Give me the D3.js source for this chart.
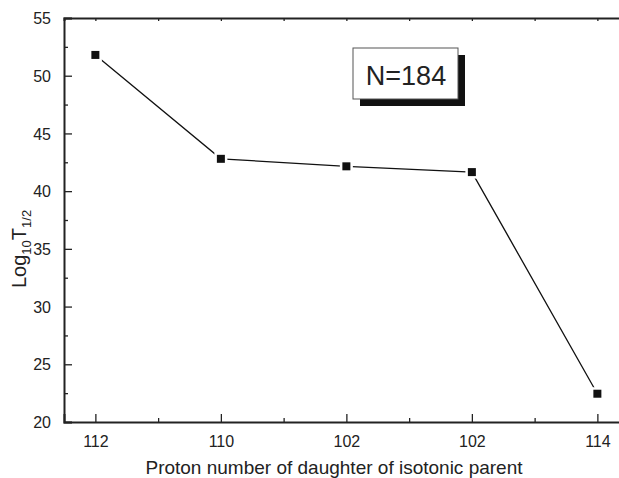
<!DOCTYPE html>
<html>
<head>
<meta charset="utf-8">
<script src="https://cdn.jsdelivr.net/npm/d3@7"></script>
<style>
  body { margin: 0; background: #fff; }
  text { font-family: Arial, "Liberation Sans", sans-serif; fill: #222; }
</style>
</head>
<body>
<svg id="chart" width="619" height="478"></svg>
<script>
// Data
const categories = ["112", "110", "102", "102", "114"];
const logHalfLife = [51.8, 42.8, 42.15, 41.65, 22.45];
const yTicks = [20, 25, 30, 35, 40, 45, 50, 55];
const annotation = "N=184";

const svg = d3.select("#chart");

// Plot frame (right side runs off the picture, like the original)
const plotLeft = 64, plotTop = 18, plotBottom = 422;
const step = 125.5;

// X scale on category index (labels repeat, so use positions)
const x = d3.scaleLinear()
    .domain([-0.25, categories.length - 0.75])
    .range([plotLeft, plotLeft + step * (categories.length - 0.5)]);

// Y scale
const y = d3.scaleLinear()
    .domain([20, 55])
    .range([plotBottom, plotTop]);

const idx = d3.range(categories.length);
const minorX = idx.slice(0, -1).map(i => i + 0.5);
const minorY = yTicks.slice(0, -1).map(v => v + 2.5);

// Bottom axis, ticks pointing inward
const xAxis = svg.append("g")
    .attr("transform", "translate(0," + plotBottom + ")")
    .call(d3.axisBottom(x).tickValues(idx).tickSize(-8).tickPadding(14)
        .tickFormat(i => categories[i]));
xAxis.selectAll(".tick text").style("font-size", "16px");

svg.append("g")
    .attr("transform", "translate(0," + plotBottom + ")")
    .call(d3.axisBottom(x).tickValues(minorX).tickSize(-4).tickFormat(""))
    .call(g => g.select(".domain").remove());

// Top axis
svg.append("g")
    .attr("transform", "translate(0," + plotTop + ")")
    .call(d3.axisTop(x).tickValues(idx.concat(minorX)).tickSize(-3).tickFormat(""));

// Left axis
const yAxis = svg.append("g")
    .attr("transform", "translate(" + plotLeft + ",0)")
    .call(d3.axisLeft(y).tickValues(yTicks).tickSize(-8).tickPadding(13));
yAxis.selectAll(".tick text").style("font-size", "16px").attr("dy", "0.35em");

svg.append("g")
    .attr("transform", "translate(" + plotLeft + ",0)")
    .call(d3.axisLeft(y).tickValues(minorY).tickSize(-4).tickFormat(""))
    .call(g => g.select(".domain").remove());

svg.selectAll(".domain").attr("stroke", "#222").attr("stroke-width", 2);
svg.selectAll(".tick line").attr("stroke", "#222").attr("stroke-width", 1.3);

// Line
const line = d3.line()
    .x((d, i) => x(i))
    .y(d => y(d));

svg.append("path")
    .datum(logHalfLife)
    .attr("fill", "none")
    .attr("stroke", "#111")
    .attr("stroke-width", 1.3)
    .attr("d", line);

// Markers with a small white gap round them
svg.selectAll(".gap")
    .data(logHalfLife)
    .enter().append("rect")
    .attr("x", (d, i) => x(i) - 6.5)
    .attr("y", d => y(d) - 6.5)
    .attr("width", 13)
    .attr("height", 13)
    .attr("fill", "#fff");

svg.selectAll(".marker")
    .data(logHalfLife)
    .enter().append("rect")
    .attr("x", (d, i) => x(i) - 4)
    .attr("y", d => y(d) - 4)
    .attr("width", 8)
    .attr("height", 8)
    .attr("fill", "#111");

// Annotation box with drop shadow
svg.append("rect")
    .attr("x", 360).attr("y", 55)
    .attr("width", 105).attr("height", 51)
    .attr("fill", "#111");
svg.append("rect")
    .attr("x", 353).attr("y", 48)
    .attr("width", 105).attr("height", 51)
    .attr("fill", "#fff")
    .attr("stroke", "#555")
    .attr("stroke-width", 1);
svg.append("text")
    .attr("x", 406).attr("y", 85)
    .attr("text-anchor", "middle")
    .style("font-size", "27px")
    .text(annotation);

// X axis title
svg.append("text")
    .attr("x", 334).attr("y", 474)
    .attr("text-anchor", "middle")
    .style("font-size", "19px")
    .text("Proton number of daughter of isotonic parent");

// Y axis title
const yt = svg.append("text")
    .attr("transform", "translate(26,288) rotate(-90)")
    .style("font-size", "20px");
yt.append("tspan").text("Log");
yt.append("tspan").attr("dy", 5).style("font-size", "13px").text("10");
yt.append("tspan").attr("dy", -5).text("T");
yt.append("tspan").attr("dy", 5).style("font-size", "13px").text("1/2");
</script>
</body>
</html>
